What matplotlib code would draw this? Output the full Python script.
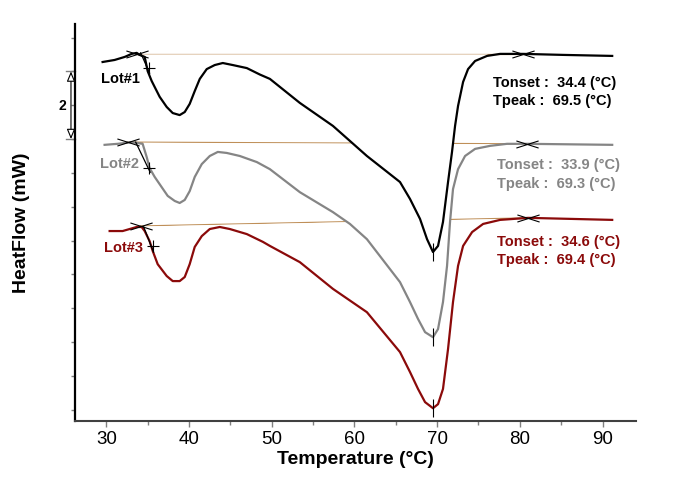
import numpy as np
import matplotlib
matplotlib.use("Agg")
import matplotlib.pyplot as plt
from matplotlib.path import Path
from matplotlib.transforms import blended_transform_factory

plt.rcParams['font.family'] = ['Liberation Sans', 'DejaVu Sans']

# DSC thermograms (temperature in degC, heat flow in mW, offset traces)
lot1_t = [29.55, 31.00, 32.22, 33.06, 33.67, 34.03, 34.64, 35.00, 35.48, 35.85, 36.45, 37.30,
          38.03, 38.87, 39.48, 40.08, 40.69, 41.30, 42.14, 43.11, 44.08, 45.29, 46.99, 48.56,
          49.78, 53.40, 57.40, 61.51, 65.51, 66.72, 67.93, 68.78, 69.50, 70.11, 70.71, 71.32,
          71.80, 72.17, 72.53, 73.14, 73.74, 74.59, 76.04, 77.62, 80.40, 85.24, 91.17]
lot1_hf = [10.28, 10.34, 10.43, 10.52, 10.55, 10.49, 10.43, 10.01, 9.72, 9.54, 9.25, 8.95,
           8.77, 8.71, 8.80, 9.04, 9.42, 9.78, 10.07, 10.19, 10.25, 10.19, 10.10, 9.91,
           9.78, 9.07, 8.39, 7.50, 6.73, 6.23, 5.64, 5.04, 4.66, 4.84, 5.55, 6.73,
           7.62, 8.39, 8.98, 9.69, 10.07, 10.31, 10.46, 10.52, 10.52, 10.49, 10.46]

lot2_t = [29.79, 31.37, 33.06, 34.39, 34.88, 35.24, 35.85, 36.69, 37.42, 38.27, 38.87, 39.48,
          40.08, 40.69, 41.54, 42.51, 43.48, 44.56, 46.14, 48.20, 49.78, 53.40, 57.40, 59.46,
          61.51, 65.51, 66.72, 67.69, 68.54, 69.50, 70.11, 70.71, 71.20, 71.56, 71.92, 72.53,
          73.38, 74.59, 76.41, 78.46, 80.88, 91.17]
lot2_hf = [7.83, 7.86, 7.91, 7.86, 7.47, 7.14, 6.88, 6.58, 6.32, 6.17, 6.11, 6.20,
           6.46, 6.88, 7.26, 7.50, 7.62, 7.59, 7.50, 7.32, 7.11, 6.43, 5.84, 5.49,
           5.04, 3.77, 3.18, 2.68, 2.29, 2.14, 2.38, 3.18, 4.25, 5.55, 6.52, 7.11,
           7.50, 7.71, 7.80, 7.86, 7.86, 7.83]

lot3_t = [30.40, 31.97, 33.67, 34.27, 34.64, 35.24, 35.61, 36.21, 37.30, 38.03, 38.87, 39.48,
          40.08, 40.69, 41.54, 42.51, 43.72, 44.93, 46.99, 48.93, 49.78, 53.40, 57.40, 61.51,
          65.51, 66.72, 67.69, 68.54, 69.50, 70.11, 70.71, 71.32, 71.92, 72.53, 73.14, 74.23,
          75.56, 77.62, 81.01, 91.17]
lot3_hf = [5.28, 5.28, 5.40, 5.40, 5.28, 4.98, 4.69, 4.30, 3.95, 3.80, 3.80, 3.92,
           4.30, 4.81, 5.13, 5.34, 5.40, 5.34, 5.19, 4.96, 4.84, 4.36, 3.57, 2.88,
           1.70, 1.11, 0.61, 0.22, 0.04, 0.16, 0.61, 1.79, 3.18, 4.25, 4.84, 5.25,
           5.49, 5.61, 5.67, 5.61]

# baseline end points (start / end of the integration)
base_t = [[33.67, 80.40], [32.58, 80.88], [34.16, 81.01]]
base_hf = [[10.52, 10.52], [7.91, 7.86], [5.43, 5.67]]
# onset tangent segment and onset point
tang_t = [[34.15, 35.24], [33.55, 35.30], [34.52, 35.70]]
tang_hf = [[10.55, 9.95], [7.91, 7.02], [5.40, 4.66]]
onset_pt = [(35.12, 10.10), (35.12, 7.14), (35.61, 4.84)]
peak_pt = [(69.5, 4.66), (69.45, 2.14), (69.5, 0.04)]

names = ['Lot#1', 'Lot#2', 'Lot#3']
name_pos = [(29.31, 9.81), (29.20, 7.29), (29.67, 4.81)]
tonset = [34.4, 33.9, 34.6]
tpeak = [69.5, 69.3, 69.4]
res_pos = [(76.77, 9.69, 9.16), (77.25, 7.26, 6.70), (77.25, 4.99, 4.45)]
colors = ['#000000', '#858585', '#8b0a0a']
base_color = '#bf8f58'

curves = [(lot1_t, lot1_hf), (lot2_t, lot2_hf), (lot3_t, lot3_hf)]

# flat X marker used by the DSC software
xmark = Path([(-1, -0.32), (1, 0.32), (-1, 0.32), (1, -0.32)],
             [Path.MOVETO, Path.LINETO, Path.MOVETO, Path.LINETO])

fig = plt.figure(figsize=(7, 4.89), dpi=100)
ax = fig.add_axes([0.107, 0.1376, 0.801, 0.811])

for i, (t, hf) in enumerate(curves):
    t = np.array(t)
    hf = np.array(hf)
    bt, bh = base_t[i], base_hf[i]
    ax.plot(bt, bh, color=base_color, lw=0.9, zorder=1)
    # area between trace and its baseline is blanked (hides the baseline below)
    sel = (t >= bt[0]) & (t <= bt[1])
    bl = np.interp(t[sel], bt, bh)
    ax.fill_between(t[sel], hf[sel], bl, where=hf[sel] < bl, color='white',
                    lw=0, zorder=2 + i * 0.1)
    ax.plot(t, hf, color=colors[i], lw=1.6, zorder=4, solid_joinstyle='round')
    ax.plot(tang_t[i], tang_hf[i], color='black', lw=0.9, zorder=5)
    ax.plot(bt, bh, ls='none', marker=xmark, ms=16, mec='black', mew=0.8, zorder=6)
    ax.plot(*onset_pt[i], marker='+', ms=8, mec='black', mew=0.8, zorder=6)
    ax.plot(*peak_pt[i], marker='|', ms=13, mec='black', mew=0.8, zorder=6)
    ax.text(name_pos[i][0], name_pos[i][1], names[i], color=colors[i],
            fontsize=10.5, fontweight='bold', ha='left', va='center', zorder=7)
    rx, ry1, ry2 = res_pos[i]
    ax.text(rx, ry1, f'Tonset :  {tonset[i]:.1f} (°C)', color=colors[i],
            fontsize=10.5, fontweight='bold', ha='left', va='center', zorder=7)
    ax.text(rx, ry2, f'Tpeak :  {tpeak[i]:.1f} (°C)', color=colors[i],
            fontsize=10.5, fontweight='bold', ha='left', va='center', zorder=7)

ax.set_xlim(26.2, 94.0)
ax.set_ylim(-0.33, 11.4)
ax.set_xticks(np.arange(30, 91, 10))
ax.set_xticks(np.arange(35, 90, 10), minor=True)
ax.set_yticks(np.arange(0, 12, 1))
ax.set_yticklabels([])
ax.tick_params(axis='x', which='major', direction='out', length=4, width=1,
               color='#808080', labelsize=13.5, pad=3)
ax.tick_params(axis='x', which='minor', direction='out', length=3, width=1,
               color='#808080')
ax.tick_params(axis='y', direction='out', length=3, width=1, color='#808080')

for s in ['top', 'right']:
    ax.spines[s].set_visible(False)
ax.spines['left'].set_linewidth(1.6)
ax.spines['left'].set_color('black')
ax.spines['bottom'].set_linewidth(1.5)
ax.spines['bottom'].set_color('#404040')

ax.set_xlabel('Temperature (°C)', fontsize=14, fontweight='bold', labelpad=2)
fig.text(22 / 700, 1 - 223 / 489, 'HeatFlow (mW)', rotation=90, fontsize=14,
         fontweight='bold', ha='center', va='center')

# 2 mW scale bar at the left of the axis
trans = blended_transform_factory(ax.transAxes, ax.transData)
ax.annotate('', xy=(-0.007, 10), xytext=(-0.007, 8), xycoords=trans, textcoords=trans,
            arrowprops=dict(arrowstyle='<|-|>,head_length=0.6,head_width=0.25',
                            fc='white', ec='black', lw=0.8, shrinkA=0, shrinkB=0),
            annotation_clip=False)
for yv in [10, 8]:
    ax.plot([-0.016, 0], [yv, yv], transform=trans, color='#808080', lw=1, clip_on=False)
ax.text(-0.023, 9.0, '2', transform=trans, fontsize=10, fontweight='bold',
        ha='center', va='center')

fig.savefig('out.png', dpi=100)
